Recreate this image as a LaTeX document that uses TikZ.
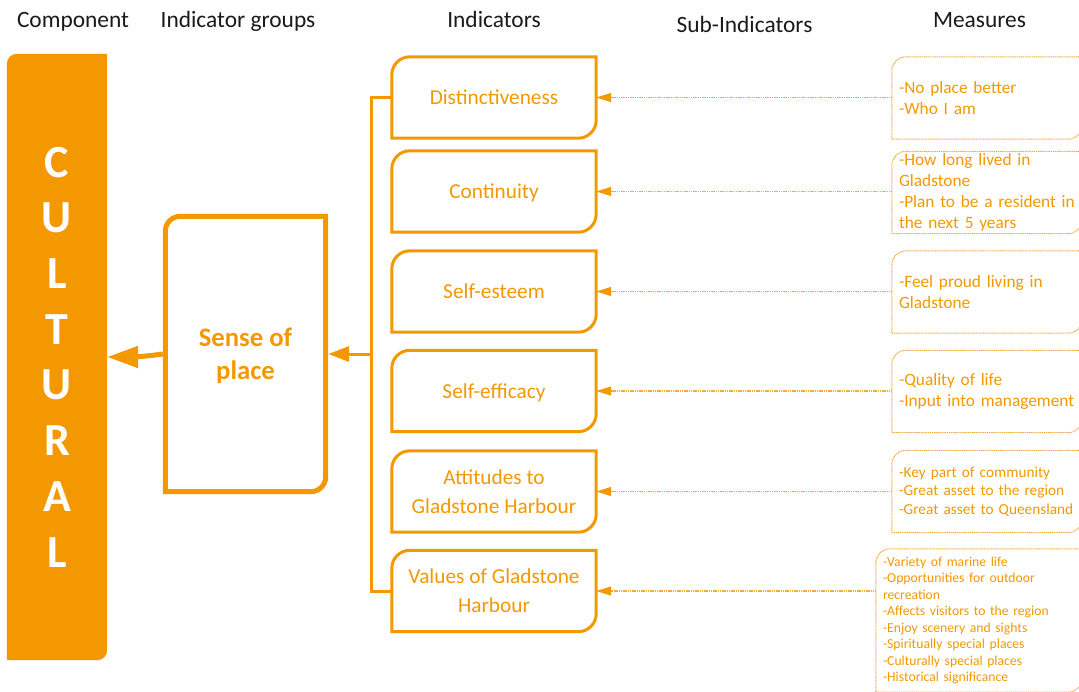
\documentclass[tikz,border=0pt]{standalone}
\usepackage{fontspec}
\setmainfont{Carlito}
\usetikzlibrary{arrows.meta,backgrounds}
\definecolor{orng}{HTML}{F39800}
\definecolor{orngl}{HTML}{F5AB40}
\definecolor{hdrc}{HTML}{1A1A1A}
\newcommand{\diagoutline}[3]{\draw[#3] (#1.south west) -- ([yshift=-#2]#1.north west) arc[start angle=180,end angle=90,radius=#2] -- (#1.north east) -- ([yshift=#2]#1.south east) arc[start angle=0,end angle=-90,radius=#2] -- cycle;}
\begin{document}
\begin{tikzpicture}[x=1pt,y=-1pt,
  hdr/.style={anchor=base, text=hdrc, font=\fontsize{23.4}{28}\selectfont, inner sep=0pt},
  indbox/.style={minimum width=204pt, minimum height=81pt, inner sep=0pt, text=orng, align=center, font=\fontsize{21.3}{29}\selectfont},
  oneline/.style={text height=18pt, text depth=3.8pt},
  measbox/.style={inner xsep=7pt, inner ysep=0pt, text width=176pt, align=left, minimum height=82pt, text=orng, font=\fontsize{17.3}{21}\selectfont},
  indline/.style={draw=orng, line width=3pt},
  measline/.style={draw=orngl, line width=1pt, dash pattern=on 1.2pt off 0.7pt},
  measarrow/.style={draw=orngl, line width=1.2pt, dash pattern=on 1.2pt off 0.6pt, -{Triangle[length=15pt,width=9pt,color=orng,fill=orng]}},
  cult/.style={minimum width=100pt, minimum height=606pt, inner sep=0pt, text=white, align=center, font=\bfseries\fontsize{46}{55.7}\selectfont},
  sensebox/.style={minimum width=160pt, minimum height=275pt, inner sep=0pt, text=orng, align=center, text depth=0pt, font=\bfseries\fontsize{26.7}{33}\selectfont}
]
\useasboundingbox (0,0) rectangle (1079,691);
\clip (0,0) rectangle (1079,691);

% headers
\node[hdr] (h1) at (73,27) {Component};
\node[hdr] (h2) at (238,27) {Indicator groups};
\node[hdr] (h3) at (494,27) {Indicators};
\node[hdr] (h4) at (744.5,32) {Sub-Indicators};
\node[hdr] (h5) at (979.5,27) {Measures};

% component
\node[cult] (cult) at (57,357) {C\\U\\L\\T\\U\\R\\A\\L};
\begin{pgfonlayer}{background}
\diagoutline{cult}{10pt}{draw=none, fill=orng}
\end{pgfonlayer}

% indicator group
\node[sensebox] (sense) at (245.5,354) {Sense of\\place};
\diagoutline{sense}{15pt}{draw=orng, line width=5pt}

% indicators
\node[indbox,oneline] (i1) at (494,97.5) {Distinctiveness};
\node[indbox,oneline] (i2) at (494,191.5) {Continuity};
\node[indbox,oneline] (i3) at (494,291.5) {Self-esteem};
\node[indbox,oneline] (i4) at (494,391) {Self-efficacy};
\node[indbox] (i5) at (494,491.5) {Attitudes to\\Gladstone Harbour};
\node[indbox] (i6) at (494,591) {Values of Gladstone\\Harbour};
\foreach \n in {i1,i2,i3,i4,i5,i6}{\diagoutline{\n}{18pt}{indline}}

% measures
\node[measbox] (m1) at (987,98) {-No place better\\-Who I am};
\node[measbox] (m2) at (987,192.5) {-How long lived in\\Gladstone\\-Plan to be a resident in\\the next 5 years};
\node[measbox] (m3) at (987,292) {-Feel proud living in\\Gladstone};
\node[measbox] (m4) at (987,391.5) {-Quality of life\\-Input into management};
\node[measbox, font=\fontsize{15.3}{18.5}\selectfont] (m5) at (987,491.5) {-Key part of community\\-Great asset to the region\\-Great asset to Queensland};
\node[measbox, text width=192pt, minimum height=143pt, font=\fontsize{13.7}{16.5}\selectfont] (m6) at (979,620.5) {-Variety of marine life\\-Opportunities for outdoor\\recreation\\-Affects visitors to the region\\-Enjoy scenery and sights\\-Spiritually special places\\-Culturally special places\\-Historical significance};
\foreach \n in {m1,m2,m3,m4,m5,m6}{\diagoutline{\n}{14pt}{measline}}

% connectors measures -> indicators
\draw[measarrow] (i1.east -| m1.west) -- (i1.east);
\draw[measarrow] (i2.east -| m2.west) -- (i2.east);
\draw[measarrow] (i3.east -| m3.west) -- (i3.east);
\draw[measarrow] (i4.east -| m4.west) -- (i4.east);
\draw[measarrow] (i5.east -| m5.west) -- (i5.east);
\draw[measarrow] (i6.east -| m6.west) -- (i6.east);

% bracket indicators -> group
\coordinate (bx) at (371,354);
\draw[orng, line width=3pt] (i1.west) -| (bx) |- (i6.west);
\draw[orng, line width=3pt, -{Triangle[length=21pt,width=15pt]}] (bx) -- ([xshift=2.5pt]sense.east |- bx);

% group -> component
\draw[orng, line width=5pt, -{Triangle[length=31pt,width=21pt]}] ([xshift=-2.5pt]sense.west) to[out=188,in=0] (cult.east);
\end{tikzpicture}
\end{document}
